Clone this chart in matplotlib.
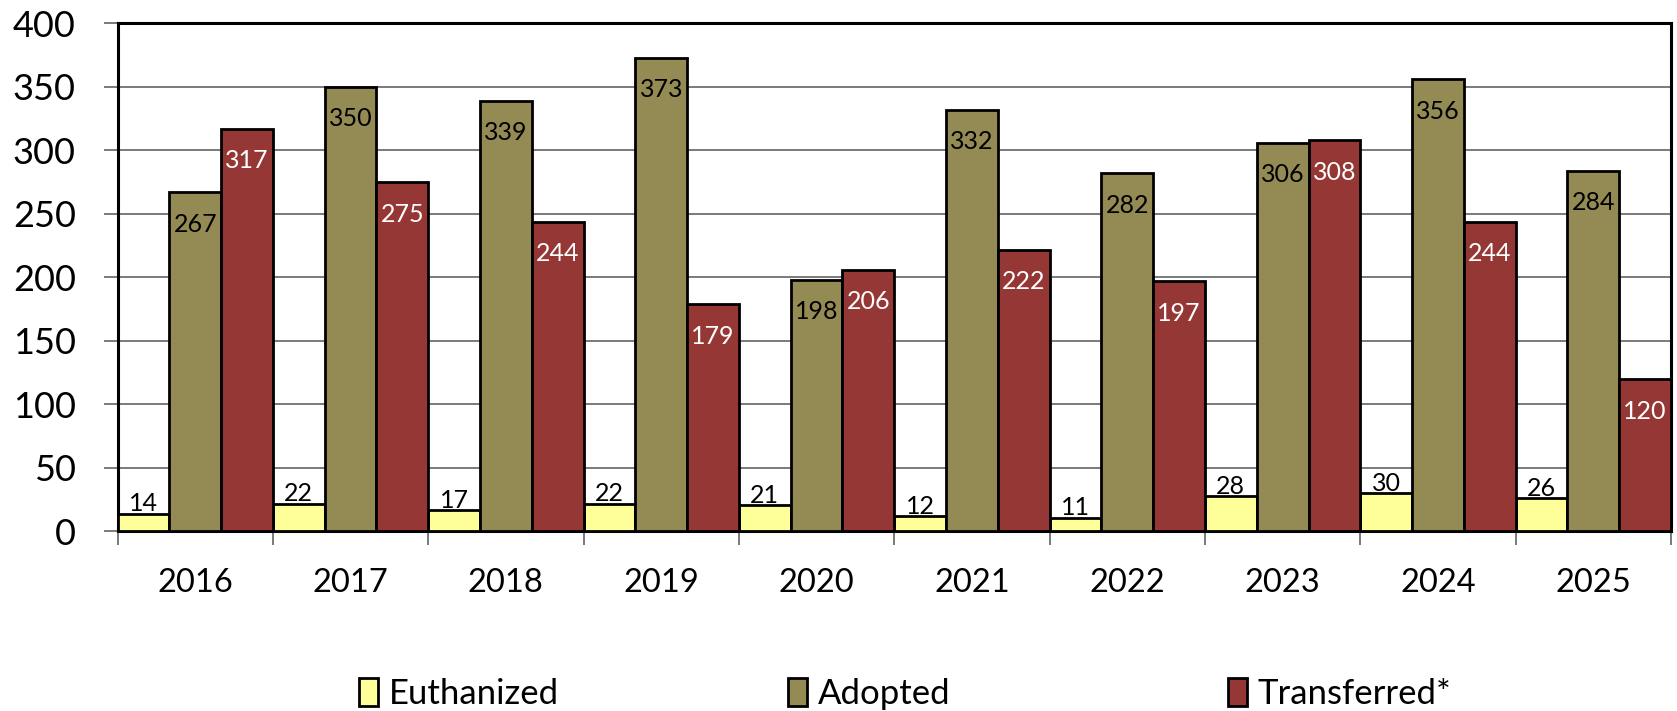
import numpy as np
import matplotlib.pyplot as plt
from matplotlib.patches import Patch

plt.rcParams['font.family'] = ['Lato', 'DejaVu Sans']

years = ['2016', '2017', '2018', '2019', '2020', '2021', '2022', '2023', '2024', '2025']
euthanized = [14, 22, 17, 22, 21, 12, 11, 28, 30, 26]
adopted = [267, 350, 339, 373, 198, 332, 282, 306, 356, 284]
transferred = [317, 275, 244, 179, 206, 222, 197, 308, 244, 120]

series = [
    ('Euthanized', euthanized, '#FFFF99'),
    ('Adopted', adopted, '#948A54'),
    ('Transferred*', transferred, '#953735'),
]

fig = plt.figure(figsize=(16.77, 7.11), dpi=100)
ax = fig.add_axes([0.0701, 0.2525, 0.9263, 0.7145])

x = np.arange(len(years))
w = 1 / 3
for i, (name, vals, col) in enumerate(series):
    pos = x - 0.5 + w * (i + 0.5)
    ax.bar(pos, vals, width=w, color=col, edgecolor='black', linewidth=2.0,
           label=name, zorder=3)
    for px, v in zip(pos, vals):
        if i == 0:
            ax.annotate(str(v), (px, v), xytext=(0, 7), textcoords='offset points',
                        ha='center', va='center', fontsize=18, color='black', zorder=4)
        else:
            ax.annotate(str(v), (px, v), xytext=(0, -23), textcoords='offset points',
                        ha='center', va='center', fontsize=18,
                        color='black' if i == 1 else 'white', zorder=4)

ax.set_xlim(-0.5, len(years) - 0.5)
ax.set_ylim(0, 400)
ax.set_yticks(range(0, 401, 50))
ax.yaxis.grid(True, color='#7a7a7a', linewidth=1.4, zorder=0)
ax.tick_params(axis='y', labelsize=26, length=10, width=1.4, color='#7a7a7a', pad=20)

# year labels centred, tick marks between groups
ax.set_xticks(x)
ax.set_xticklabels(years)
ax.tick_params(axis='x', which='major', length=0, labelsize=23.5, pad=26)
ax.set_xticks(np.arange(len(years) + 1) - 0.5, minor=True)
ax.tick_params(axis='x', which='minor', length=10, width=1.4, color='#7a7a7a')

for s in ax.spines.values():
    s.set_color('black')
    s.set_linewidth(2.2)

# one legend entry per slot, spaced evenly along the bottom
for (name, _, col), lx in zip(series, [0.214, 0.470, 0.732]):
    h = Patch(facecolor=col, edgecolor='black', linewidth=2.0, label=name)
    fig.legend(handles=[h], loc='center left', bbox_to_anchor=(lx, 0.024),
               frameon=False, fontsize=25, handlelength=0.55, handleheight=0.85,
               handletextpad=0.3, borderpad=0, borderaxespad=0)

fig.savefig('out.png', dpi=100)
